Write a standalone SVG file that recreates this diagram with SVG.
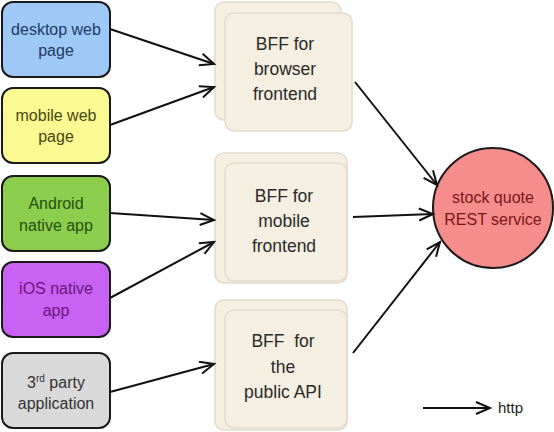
<svg xmlns="http://www.w3.org/2000/svg" width="554" height="432" viewBox="0 0 554 432">
<defs>
<style>
.cl{stroke:#1a1a1a;stroke-width:2}
.t{font-family:"Liberation Sans",Arial,sans-serif;font-size:16px;text-anchor:middle}
.b{font-family:"Liberation Sans",Arial,sans-serif;font-size:17.5px;text-anchor:middle;fill:#2a2a2a}
.card{fill:#f4efe0;stroke:#e2dccb;stroke-width:1.5}
.e{fill:none;stroke:#111;stroke-width:2}
</style>
<marker id="ah" markerUnits="userSpaceOnUse" markerWidth="20" markerHeight="16" refX="15" refY="7" orient="auto" viewBox="0 0 20 16">
<path d="M1,1 L15,7 L1,13" fill="none" stroke="#111" stroke-width="2"/>
</marker>
</defs>
<rect width="554" height="432" fill="#ffffff"/>
<g id="desktop">
<rect class="cl" x="2" y="2" width="108" height="75" rx="11" fill="#9ec9f6"/>
<text class="t" x="56" y="35" fill="#1e3a66">desktop web</text>
<text class="t" x="56" y="56" fill="#1e3a66">page</text>
</g>
<g id="mobileweb">
<rect class="cl" x="2" y="88" width="108" height="75" rx="11" fill="#fbfa92"/>
<text class="t" x="56" y="121" fill="#4a4612">mobile web</text>
<text class="t" x="56" y="142" fill="#4a4612">page</text>
</g>
<g id="android">
<rect class="cl" x="2" y="176" width="108" height="75" rx="11" fill="#8dcd4d"/>
<text class="t" x="56" y="209" fill="#24500e">Android</text>
<text class="t" x="56" y="231" fill="#24500e">native app</text>
</g>
<g id="ios">
<rect class="cl" x="2" y="262" width="108" height="75" rx="11" fill="#c862f2"/>
<text class="t" x="56" y="294" fill="#6a1580">iOS native</text>
<text class="t" x="56" y="316" fill="#6a1580">app</text>
</g>
<g id="thirdparty">
<rect class="cl" x="2" y="353" width="108" height="75" rx="11" fill="#d9d9d9"/>
<text class="t" x="56" y="388" fill="#333">3<tspan font-size="10" dy="-6">rd</tspan><tspan dy="6"> party</tspan></text>
<text class="t" x="56" y="409" fill="#333">application</text>
</g>
<g id="bff1">
<rect class="card" x="215" y="2" width="126" height="118" rx="9"/>
<rect class="card" x="225" y="13" width="127" height="118" rx="9"/>
<text class="b" x="285" y="50">BFF for</text>
<text class="b" x="285" y="75">browser</text>
<text class="b" x="285" y="100">frontend</text>
</g>
<g id="bff2">
<rect class="card" x="215" y="153" width="132" height="130" rx="9"/>
<rect class="card" x="225" y="163" width="122" height="118" rx="9"/>
<text class="b" x="284" y="202">BFF for</text>
<text class="b" x="284" y="227">mobile</text>
<text class="b" x="284" y="252">frontend</text>
</g>
<g id="bff3">
<rect class="card" x="215" y="300" width="132" height="130" rx="9"/>
<rect class="card" x="225" y="310" width="122" height="118" rx="9"/>
<text class="b" x="283" y="347" xml:space="preserve">BFF  for</text>
<text class="b" x="283" y="373">the</text>
<text class="b" x="283" y="398">public API</text>
</g>
<g id="stockquote">
<circle cx="493" cy="208" r="60" fill="#f58d8d" stroke="#1a1a1a" stroke-width="2"/>
<text class="t" x="493" y="203" fill="#7a1616">stock quote</text>
<text class="t" x="493" y="225" fill="#7a1616">REST service</text>
</g>
<g id="connectors">
<line class="e" x1="110" y1="29" x2="214" y2="64" marker-end="url(#ah)"/>
<line class="e" x1="110" y1="125" x2="214" y2="87" marker-end="url(#ah)"/>
<line class="e" x1="110" y1="213" x2="214" y2="220" marker-end="url(#ah)"/>
<line class="e" x1="110" y1="298" x2="214" y2="242" marker-end="url(#ah)"/>
<line class="e" x1="110" y1="392" x2="214" y2="364" marker-end="url(#ah)"/>
<line class="e" x1="355" y1="82" x2="437" y2="185" marker-end="url(#ah)"/>
<line class="e" x1="353" y1="217" x2="433" y2="214" marker-end="url(#ah)"/>
<line class="e" x1="353" y1="353" x2="440" y2="242" marker-end="url(#ah)"/>
<line class="e" x1="423" y1="408" x2="490" y2="408" marker-end="url(#ah)"/>
</g>
<g id="legend">
<text x="498" y="413" font-family="'Liberation Sans',Arial,sans-serif" font-size="15" fill="#222">http</text>
</g>
</svg>
